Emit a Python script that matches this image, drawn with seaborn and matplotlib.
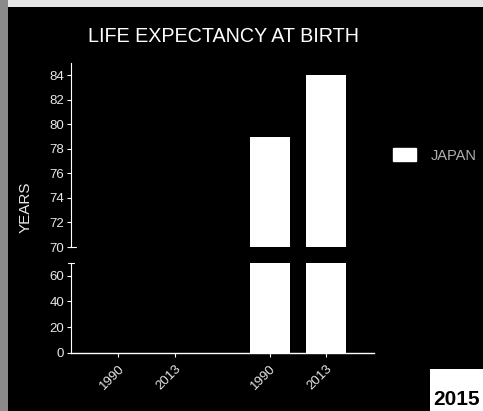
import matplotlib
matplotlib.use("Agg")
import matplotlib.pyplot as plt
from matplotlib.patches import Patch, Rectangle
import numpy as np
import pandas as pd
import seaborn as sns

# Data
countries = ["WORLD", "JAPAN"]
years = ["1990", "2013"]
life_expectancy = {
    "WORLD": [np.nan, np.nan],
    "JAPAN": [79, 84],
}
upper_ticks = [70, 72, 74, 76, 78, 80, 82, 84]
lower_ticks = [0, 20, 40, 60]

rows = []
for c in countries:
    for y, v in zip(years, life_expectancy[c]):
        rows.append({"country": c, "year": y, "value": v})
df = pd.DataFrame(rows)

sns.set_theme(style="white")
plt.rcParams["font.family"] = ["Liberation Sans", "DejaVu Sans"]

fig = plt.figure(figsize=(4.83, 4.11), dpi=100, facecolor="black")
ax_top = fig.add_axes([0.147, 0.399, 0.627, 0.448])
ax_bot = fig.add_axes([0.147, 0.142, 0.627, 0.218])

fg = "white"
txt = "#e8e8e8"
group_width = 0.746
for ax in (ax_top, ax_bot):
    ax.set_facecolor("black")
    sns.barplot(data=df, x="country", y="value", hue="year", order=countries,
                hue_order=years, palette=["white", "white"], width=group_width,
                gap=0.29, saturation=1, legend=False, linewidth=0, ax=ax)
    ax.set_xlim(-0.5, 1.5)
    ax.set_xlabel("")
    ax.set_ylabel("")
    for s in ("top", "right"):
        ax.spines[s].set_visible(False)
    ax.spines["left"].set_color(fg)
    ax.spines["left"].set_linewidth(0.8)
    ax.tick_params(axis="y", colors=fg, labelsize=9.5, length=3, width=0.8,
                   direction="out", left=True, pad=2)

ax_top.set_ylim(70, 85)
ax_top.set_yticks(upper_ticks)
ax_top.spines["bottom"].set_visible(False)
ax_top.set_xticks([])

ax_bot.set_ylim(0, 70)
ax_bot.set_yticks(lower_ticks)
ax_bot.spines["bottom"].set_color(fg)
ax_bot.spines["bottom"].set_linewidth(1.0)

# Year tick positions under each bar slot
offset = group_width / 4
positions = []
labels = []
for i, c in enumerate(countries):
    for k, y in enumerate(years):
        positions.append(i + (-offset if k == 0 else offset))
        labels.append(y)
ax_bot.set_xticks(positions)
ax_bot.set_xticklabels(labels, rotation=45, ha="right", rotation_mode="anchor",
                       fontsize=9.5)
ax_bot.tick_params(axis="x", colors=fg, length=3, width=0.8, bottom=True, pad=4)
for ax in (ax_top, ax_bot):
    for lab in ax.get_yticklabels() + ax.get_xticklabels():
        lab.set_color(txt)

# Axis-break marks
ax_top.plot([0, 0.015], [0, 0], transform=ax_top.transAxes, color=fg, lw=0.8,
            clip_on=False)
ax_bot.plot([-0.01, 0.01], [1, 1], transform=ax_bot.transAxes, color=fg, lw=0.8,
            clip_on=False)

fig.text(0.182, 0.912, "LIFE EXPECTANCY AT BIRTH", color=fg, fontsize=14.2,
         ha="left", va="center")
fig.text(0.054, 0.496, "YEARS", color=txt, fontsize=11, rotation=90,
         ha="center", va="center")

fig.legend(handles=[Patch(facecolor="white", edgecolor="white", label="JAPAN")],
           loc="center left", bbox_to_anchor=(0.786, 0.622), frameon=False,
           labelcolor="#b0b0b0", fontsize=10.5, handlelength=1.6, handleheight=0.95,
           handletextpad=1.0)

# Paper edges and year badge
fig.patches.append(Rectangle((0, 0.983), 1, 0.017, transform=fig.transFigure,
                             facecolor="#e6e6e6", edgecolor="none"))
fig.patches.append(Rectangle((0, 0), 0.016, 1, transform=fig.transFigure,
                             facecolor="#8a8a8a", edgecolor="none"))
fig.patches.append(Rectangle((0.89, 0), 0.11, 0.102, transform=fig.transFigure,
                             facecolor="white", edgecolor="none"))
fig.text(0.945, 0.004, "2015", color="black", fontsize=15, fontweight="bold",
         ha="center", va="bottom")

fig.savefig("out.png", dpi=100, facecolor="black")
